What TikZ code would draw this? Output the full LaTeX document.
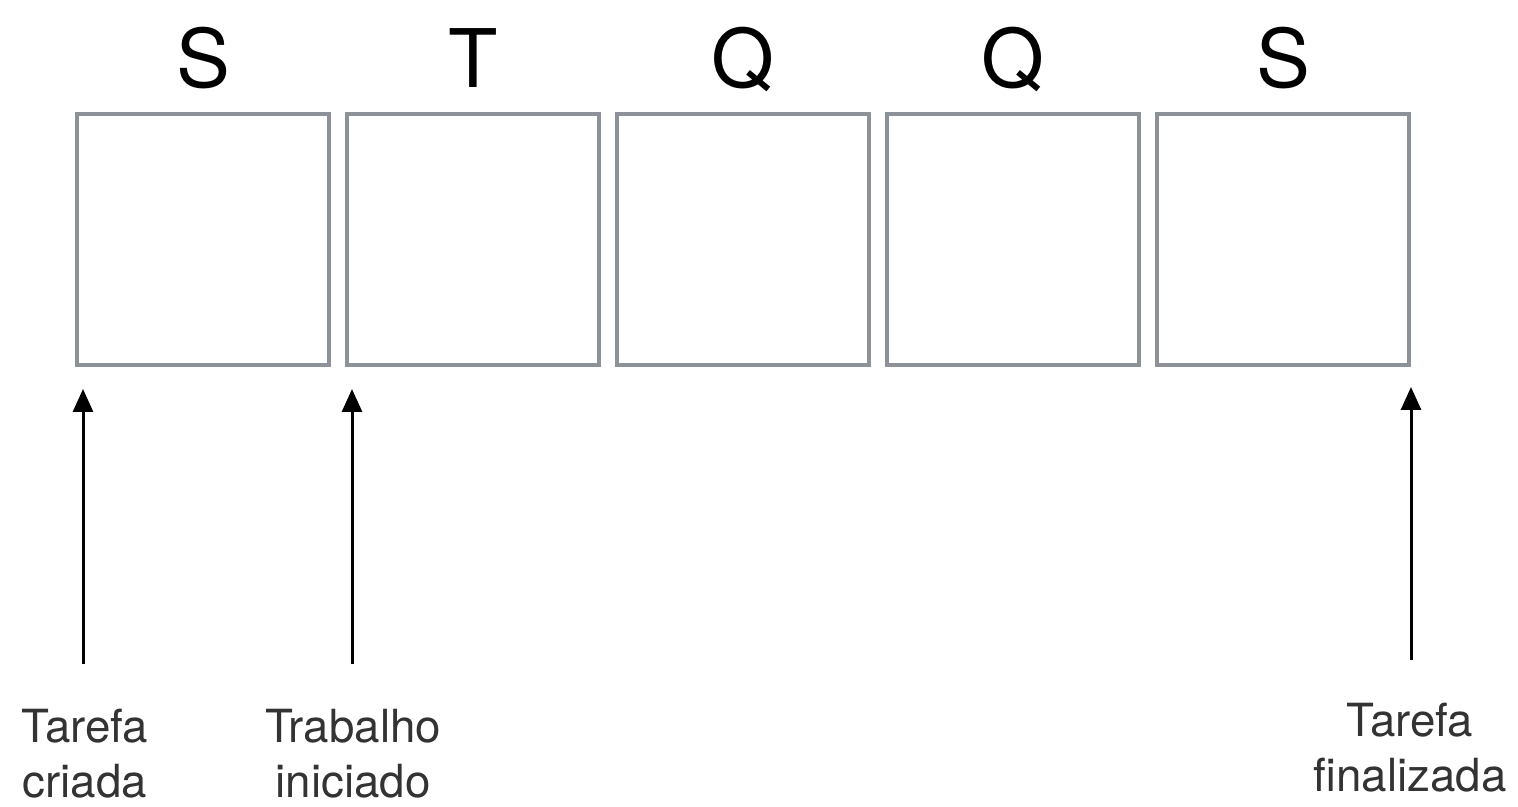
\documentclass[tikz,border=0pt]{standalone}
\usepackage{fontspec}
\setmainfont{TeX Gyre Heros}
\usetikzlibrary{arrows.meta}
\definecolor{boxgray}{HTML}{8C9297}
\begin{document}
\begin{tikzpicture}[x=0.02cm,y=-0.02cm,
    daybox/.style={draw=boxgray,line width=0.08cm,minimum size=5.04cm,inner sep=0pt},
    dayname/.style={anchor=base,font=\fontsize{46}{50}\selectfont},
    event/.style={align=center,anchor=base,font=\fontsize{26}{31}\selectfont,text=black!80},
    pointer/.style={-{Triangle[length=0.46cm,width=0.4cm]},line width=0.06cm}]
    \useasboundingbox (0,0) rectangle (1518,807);
    % dias da semana
    \foreach \d/\l [count=\i] in {203/S,473/T,743/Q,1013/Q,1283/S}
    {
        \node[daybox] (box\i) at (\d,239.5) {};
        \node[dayname] (day\i) at (\d,88) {\l};
    }
    % eventos
    \node[event] (criada) at (85,797) {Tarefa\\criada};
    \node[event] (iniciado) at (353,797) {Trabalho\\iniciado};
    \node[event] (finalizada) at (1410,791) {Tarefa\\finalizada};
    \coordinate (tip1) at (83,389);
    \coordinate (tip2) at (352,389);
    \coordinate (tip3) at (1411,387);
    \coordinate (tail1) at (83,664);
    \coordinate (tail2) at (352,664);
    \coordinate (tail3) at (1411,660);
    \draw[pointer] (tail1) -- (tip1);
    \draw[pointer] (tail2) -- (tip2);
    \draw[pointer] (tail3) -- (tip3);
\end{tikzpicture}
\end{document}
